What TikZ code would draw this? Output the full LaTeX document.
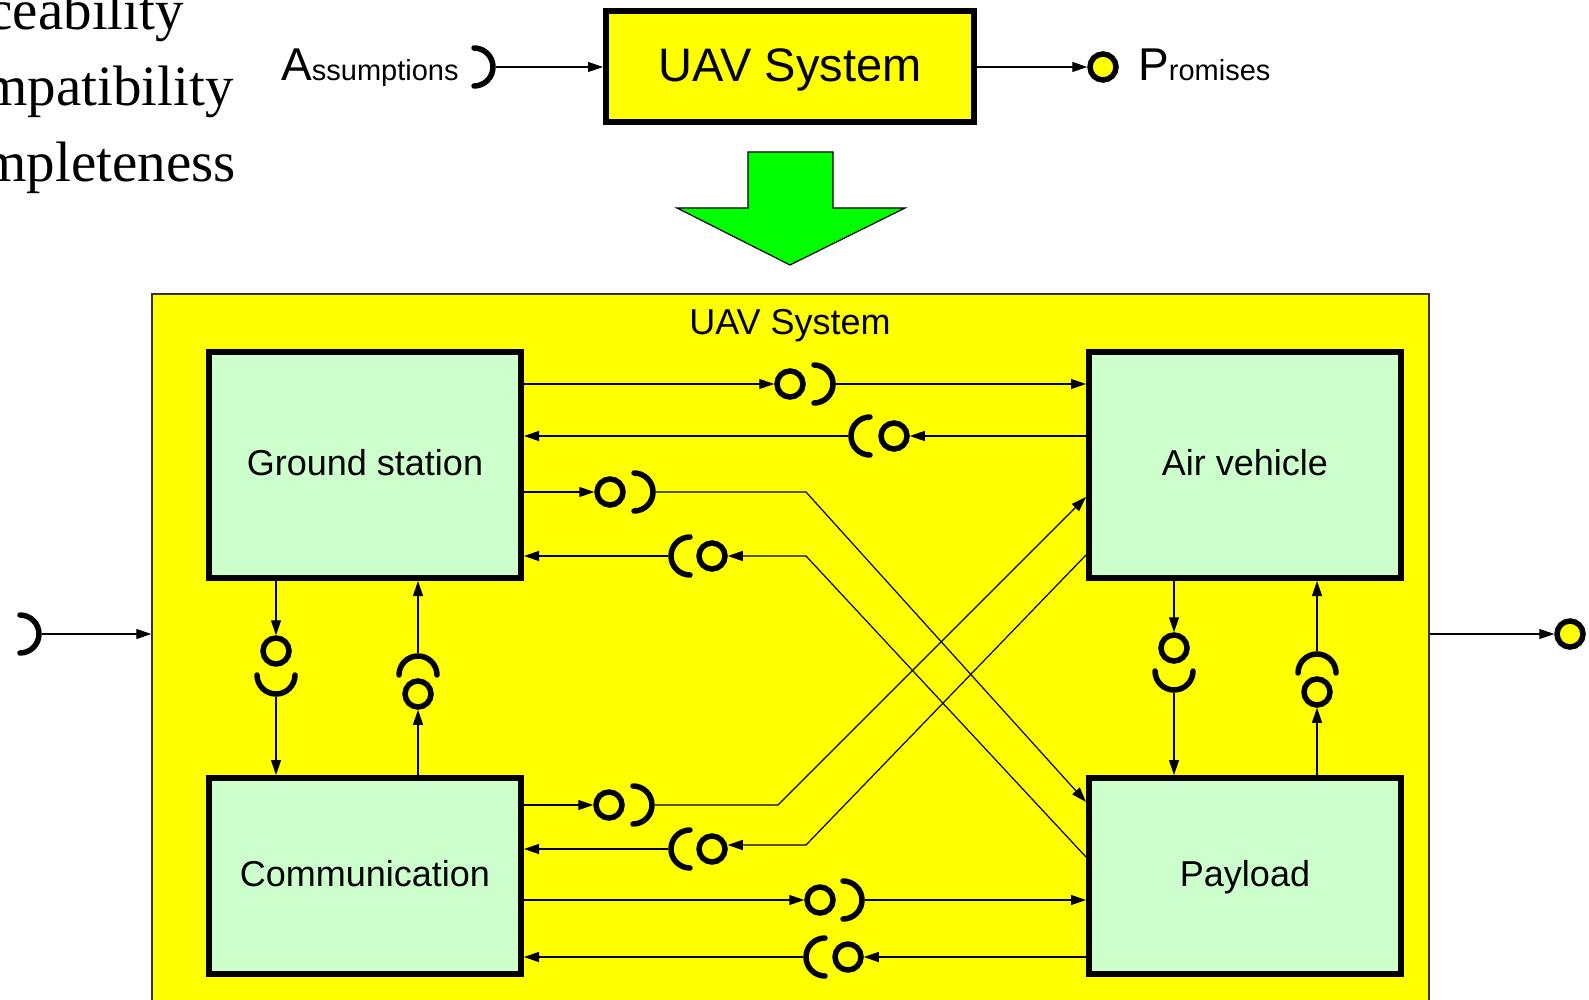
\documentclass[tikz,border=0pt]{standalone}
\usepackage{fontspec}
\setmainfont{Liberation Sans}
\newfontfamily\tnrfont{Liberation Serif}
\usetikzlibrary{arrows.meta,calc}
\definecolor{lgreen}{HTML}{CCFFCC}
\definecolor{agreen}{HTML}{00FF00}
\definecolor{yel}{HTML}{FFFF00}
\tikzset{
  conn/.style={draw=black, line width=1.2pt, -{Triangle[length=15pt,width=10pt]}},
  ball/.style={circle, draw=black, line width=5.5pt, fill=yel, minimum size=26pt, inner sep=0pt},
  sock/.style={circle, minimum size=43.5pt, inner sep=0pt, outer sep=0pt},
  sockline/.style={draw=black, line width=5.5pt, line cap=round},
  blk/.style={draw=black, line width=6pt, fill=lgreen, minimum width=312pt, inner sep=0pt,
    text height=26pt, text depth=6pt, font=\fontsize{36pt}{40pt}\selectfont},
  serifline/.style={anchor=base east, inner sep=0pt, font=\tnrfont\fontsize{57pt}{62pt}\selectfont},
}
\newcommand\sockR[2]{\node[sock] (#1) at (#2) {}; \draw[sockline] (#1.center) ++(90:19) arc[start angle=90, end angle=-90, radius=19];}
\newcommand\sockL[2]{\node[sock] (#1) at (#2) {}; \draw[sockline] (#1.center) ++(90:19) arc[start angle=90, end angle=270, radius=19];}
\newcommand\sockD[2]{\node[sock] (#1) at (#2) {}; \draw[sockline] (#1.center) ++(0:19) arc[start angle=0, end angle=180, radius=19];}
\newcommand\sockU[2]{\node[sock] (#1) at (#2) {}; \draw[sockline] (#1.center) ++(180:19) arc[start angle=180, end angle=360, radius=19];}
\begin{document}
\begin{tikzpicture}[x=1pt,y=-1pt]
\useasboundingbox (0,0) rectangle (1589,1000);
\clip (0,0) rectangle (1589,1000);
\fill[white] (0,0) rectangle (1589,1000);

% left serif texts (clipped by the picture edge)
\node[serifline] (t1) at (184,30) {Traceability};
\node[serifline] (t2) at (234,106) {Compatibility};
\node[serifline] (t3) at (236,182) {Completeness};

% top row
\node[draw=black, line width=6pt, fill=yel, minimum width=368pt, minimum height=111pt, inner sep=0pt,
  text height=35pt, text depth=5.4pt, font=\fontsize{47pt}{50pt}\selectfont] (top) at (790,66.5) {UAV System};
\node[anchor=base west, inner sep=0pt] (assum) at (281,81) {{\fontsize{46pt}{46pt}\selectfont A}{\fontsize{29pt}{29pt}\selectfont ssumptions}};
\node[anchor=base west, inner sep=0pt] (prom) at (1138,81) {{\fontsize{46pt}{46pt}\selectfont P}{\fontsize{29pt}{29pt}\selectfont romises}};
\sockR{sA}{474,67}
\node[ball] (bP) at (1103,67) {};
\draw[conn] (sA) -- (top.west |- sA);
\draw[conn] (top.east |- bP) -- (bP);

% refinement arrow
\draw[fill=agreen, draw=black, line width=1.2pt] (748,152) -- (833,152) -- (833,208) -- (905,208) -- (790,265) -- (677,208) -- (748,208) -- cycle;

% big system box
\node[draw=black!80, line width=1.5pt, fill=yel, minimum width=1277pt, minimum height=726pt, inner sep=0pt] (sys) at (790.5,657) {};
\node[anchor=base, inner sep=0pt, font=\fontsize{36pt}{40pt}\selectfont] (systitle) at (790,334) {UAV System};

% components
\node[blk, minimum height=226pt] (gs) at (365,465) {Ground station};
\node[blk, minimum height=226pt] (av) at (1245,465) {Air vehicle};
\node[blk, minimum height=196pt] (cm) at (365,876) {Communication};
\node[blk, minimum height=196pt] (pl) at (1245,876) {Payload};

% C1 GS -> AV
\node[ball] (b1) at (790,384) {};
\sockR{s1}{814,384}
\draw[conn] (gs.east |- b1) -- (b1);
\draw[conn] (s1) -- (av.west |- s1);
% C2 AV -> GS
\node[ball] (b2) at (894,436) {};
\sockL{s2}{870,436}
\draw[conn] (av.west |- b2) -- (b2);
\draw[conn] (s2) -- (gs.east |- s2);
% C3 GS -> PL
\node[ball] (b3) at (610,492) {};
\sockR{s3}{634,492}
\coordinate (k3) at (806,492);
\draw[conn] (gs.east |- b3) -- (b3);
\draw[conn] (s3) -- (k3) -- ([yshift=74pt]pl.west);
% C4 PL -> GS
\node[ball] (b4) at (712,556) {};
\sockL{s4}{690,556}
\coordinate (k4) at (806,556);
\draw[conn] ([yshift=19pt]pl.west) -- (k4) -- (b4);
\draw[conn] (s4) -- (gs.east |- s4);
% C5 CM -> AV
\node[ball] (b5) at (609,805) {};
\sockR{s5}{633,805}
\coordinate (k5) at (778,805);
\draw[conn] (cm.east |- b5) -- (b5);
\draw[conn] (s5) -- (k5) -- ([yshift=-32pt]av.west);
% C6 AV -> CM
\node[ball] (b6) at (712,849) {};
\sockL{s6}{690,849}
\coordinate (k6) at (806,845);
\draw[conn] ([yshift=-90pt]av.west) -- (k6) -- (b6.east |- k6);
\draw[conn] (s6) -- (cm.east |- s6);
% C7 CM -> PL
\node[ball] (b7) at (820,900) {};
\sockR{s7}{843,900}
\draw[conn] (cm.east |- b7) -- (b7);
\draw[conn] (s7) -- (pl.west |- s7);
% C8 PL -> CM
\node[ball] (b8) at (848,957) {};
\sockL{s8}{825,957}
\draw[conn] (pl.west |- b8) -- (b8);
\draw[conn] (s8) -- (cm.east |- s8);

% vertical GS -> CM
\node[ball] (b9) at (276,651) {};
\sockD{s9}{276,675}
\draw[conn] (gs.south -| b9) -- (b9);
\draw[conn] (s9) -- (cm.north -| s9);
% vertical CM -> GS
\node[ball] (b10) at (418,694) {};
\sockU{s10}{418,675}
\draw[conn] (cm.north -| b10) -- (b10);
\draw[conn] (s10) -- (gs.south -| s10);
% vertical AV -> PL
\node[ball] (b11) at (1174,648) {};
\sockD{s11}{1174,671}
\draw[conn] (av.south -| b11) -- (b11);
\draw[conn] (s11) -- (pl.north -| s11);
% vertical PL -> AV
\node[ball] (b12) at (1317,692) {};
\sockU{s12}{1317,673}
\draw[conn] (pl.north -| b12) -- (b12);
\draw[conn] (s12) -- (av.south -| s12);

% outer ports
\sockR{sL}{20,634}
\draw[conn] (sL) -- (sys.west |- sL);
\node[ball] (bR) at (1570,634) {};
\draw[conn] (sys.east |- bR) -- (bR);
\end{tikzpicture}
\end{document}
